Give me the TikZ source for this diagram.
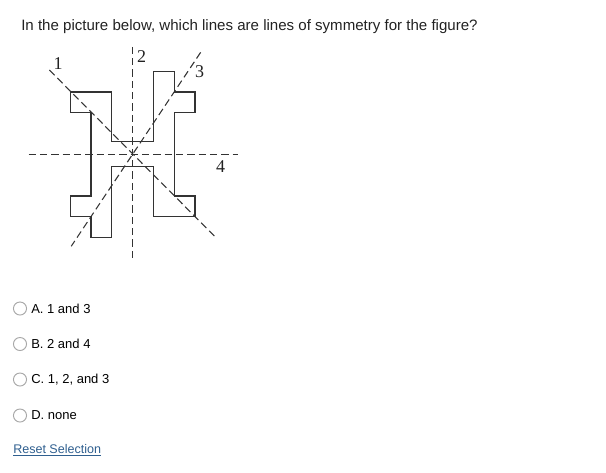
\documentclass[tikz,border=0pt]{standalone}
\usepackage{fontspec}
\setmainfont{Liberation Sans}
\newfontfamily\serifdigits{Liberation Serif}
\definecolor{txt}{HTML}{222222}
\definecolor{figline}{HTML}{333333}
\definecolor{radio}{HTML}{A8A8A8}
\definecolor{linkblue}{HTML}{2F5F8F}
\tikzset{
  symline/.style={draw=figline, line width=0.8pt, dash pattern=on 5.5pt off 3pt},
  shapeline/.style={draw=figline, line width=0.9pt, line join=miter},
  linelabel/.style={font=\serifdigits\fontsize{13.5}{15}\selectfont, text=txt, inner sep=0pt},
  radiobtn/.style={circle, draw=radio, line width=0.7pt, fill=white, minimum size=9.8pt, inner sep=0pt},
  optlabel/.style={font=\fontsize{9.75}{11}\selectfont, text=black, anchor=west, inner sep=0pt},
}
\begin{document}
\begin{tikzpicture}[x=0.75pt, y=-0.75pt]
\useasboundingbox (0,0) rectangle (606,472);
\node[anchor=west, inner sep=0pt, font=\fontsize{11.3}{13}\selectfont, text=txt] (question) at (21,27) {In the picture below, which lines are lines of symmetry for the figure?};

\begin{scope}[shift={(132.6,154.3)}, x=15.6pt, y=15.6pt]
  \coordinate (l1a) at (-4.0,4.05);
  \coordinate (l1b) at (3.93,-3.93);
  \coordinate (l2a) at (0,5.17);
  \coordinate (l2b) at (0,-5.1);
  \coordinate (l3a) at (3.27,4.9);
  \coordinate (l3b) at (-2.95,-4.42);
  \coordinate (l4a) at (-5.0,0);
  \coordinate (l4b) at (5.08,0);
  \draw[shapeline] (-3,3) -- (-1,3) -- (-1,0.6) -- (1,0.6) -- (1,4) -- (2,4) -- (2,3) -- (3,3) -- (3,2) -- (2,2) -- (2,-2) -- (3,-2) -- (3,-3) -- (1,-3) -- (1,-0.6) -- (-1,-0.6) -- (-1,-4) -- (-2,-4) -- (-2,-3) -- (-3,-3) -- (-3,-2) -- (-2,-2) -- (-2,2) -- (-3,2) -- cycle;
  \draw[symline] (l1a) -- (l1b);
  \draw[symline] (l2a) -- (l2b);
  \draw[symline] (l3a) -- (l3b);
  \draw[symline] (l4a) -- (l4b);
\end{scope}
\node[linelabel] (lab1) at (58,63.5) {1};
\node[linelabel] (lab2) at (141.5,56.5) {2};
\node[linelabel] (lab3) at (199.5,72) {3};
\node[linelabel] (lab4) at (220.5,167) {4};

\node[radiobtn] (ra) at (20,308.5) {};
\node[optlabel] (oa) at (31,308.5) {A. 1 and 3};
\node[radiobtn] (rb) at (20,344) {};
\node[optlabel] (ob) at (31,344) {B. 2 and 4};
\node[radiobtn] (rc) at (20,379.5) {};
\node[optlabel] (oc) at (31,379.5) {C. 1, 2, and 3};
\node[radiobtn] (rd) at (20,415.5) {};
\node[optlabel] (od) at (31,415.5) {D. none};

\node[anchor=west, inner sep=0pt, font=\fontsize{9.4}{11}\selectfont, text=linkblue] (reset) at (13,449) {Reset Selection};
\draw[linkblue, line width=0.6pt] ([yshift=-1.3pt]reset.base west) -- ([yshift=-1.3pt]reset.base east);
\end{tikzpicture}
\end{document}
